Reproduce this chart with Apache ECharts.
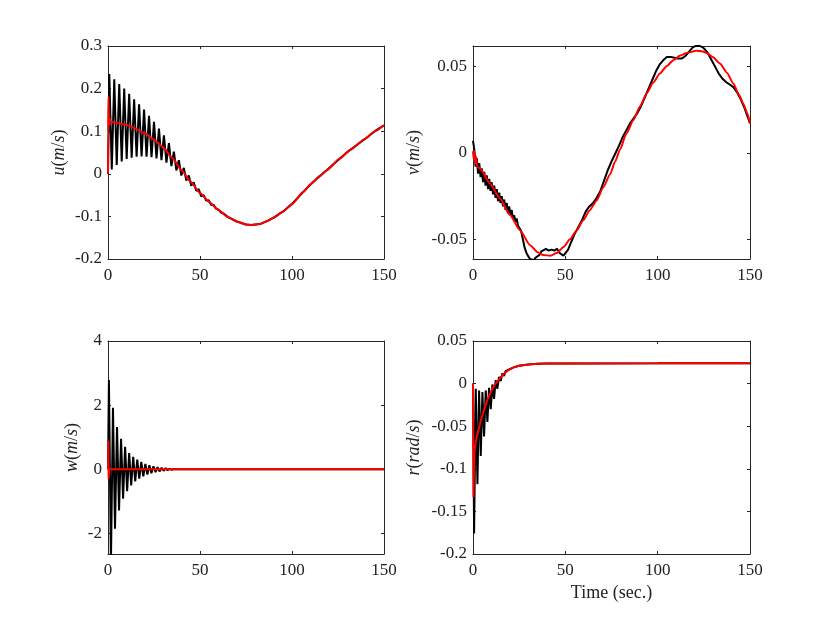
<!DOCTYPE html>
<html><head><meta charset="utf-8">
<script src="https://cdn.jsdelivr.net/npm/echarts@6/dist/echarts.min.js"></script>
<style>html,body{margin:0;padding:0;background:#fff}#c{width:830px;height:623px}</style>
</head><body><div id="c"></div>
<script>
// ---- tick values ----
const xTicks = [0, 50, 100, 150];
const uTicks = [-0.2, -0.1, 0, 0.1, 0.2, 0.3];
const vTicks = [-0.05, 0, 0.05];
const wTicks = [-2, 0, 2, 4];
const rTicks = [-0.2, -0.15, -0.1, -0.05, 0, 0.05];

// ---- u (m/s) ----
const uBlack = [[0,0],[0.7,0.234],[2.05,0.01],[3.4,0.222],[4.75,0.021],[6.1,0.211],[7.45,0.029],[8.8,0.2],[10.15,0.035],[11.5,0.188],[12.85,0.038],[14.2,0.175],[15.55,0.04],[16.9,0.163],[18.25,0.041],[19.6,0.151],[20.95,0.04],[22.3,0.136],[23.65,0.039],[25,0.122],[26.35,0.036],[27.7,0.106],[29.05,0.032],[30.4,0.09],[31.75,0.026],[33.1,0.072],[34.45,0.018],[35.8,0.052],[37.15,0.008],[38.5,0.032],[39.85,-0.004],[41.2,0.014],[42.55,-0.016],[43.9,-0.004],[45.25,-0.028],[46.6,-0.02],[47.95,-0.04],[49.3,-0.036],[50.65,-0.053],[52,-0.05],[53.35,-0.063],[54.7,-0.062],[56.05,-0.073],[57.4,-0.073],[58.75,-0.082],[60.1,-0.084],[61.45,-0.091],[62.8,-0.093],[65,-0.101],[70,-0.112],[75,-0.119],[78,-0.12],[82.6,-0.118],[87,-0.11],[90,-0.103],[95,-0.089],[100,-0.071],[106,-0.043],[110,-0.025],[115,-0.006],[119,0.009],[126,0.036],[131.5,0.056],[140,0.083],[145,0.1],[150,0.114]];
const uRed = [[0,0],[0.15,0.1],[0.3,0.18],[0.45,0.12],[0.6,0.14],[0.8,0.115],[1.0,0.13],[1.3,0.12],[2,0.122],[5,0.119],[10,0.115],[15,0.106],[20,0.095],[25,0.08],[30,0.062],[35,0.037],[40,0.008],[45,-0.019],[50,-0.045],[55,-0.066],[60,-0.085],[65,-0.101],[70,-0.112],[75,-0.119],[78,-0.12],[82.6,-0.118],[87,-0.11],[90,-0.103],[95,-0.089],[100,-0.071],[106,-0.043],[110,-0.025],[115,-0.006],[119,0.009],[126,0.036],[131.5,0.056],[140,0.083],[145,0.1],[150,0.114]];

// ---- v (m/s) ----
const vBlack = [[0,0.007],[0.7,0.002],[1.4,-0.008],[2.05,-0.003],[2.75,-0.012],[3.4,-0.006],[4.1,-0.014],[4.75,-0.009],[5.45,-0.017],[6.1,-0.011],[6.8,-0.019],[7.45,-0.013],[8.15,-0.021],[8.8,-0.015],[9.5,-0.022],[10.15,-0.017],[10.85,-0.024],[11.5,-0.019],[12.2,-0.026],[12.85,-0.021],[13.55,-0.028],[14.2,-0.023],[14.9,-0.029],[15.55,-0.025],[16.25,-0.031],[16.9,-0.027],[17.6,-0.033],[18.25,-0.029],[18.95,-0.035],[19.6,-0.031],[20.3,-0.036],[20.95,-0.033],[21.65,-0.038],[22.3,-0.036],[23,-0.04],[23.65,-0.038],[24.35,-0.042],[25,-0.041],[26,-0.045],[27,-0.05],[28,-0.055],[29,-0.058],[30,-0.06],[31,-0.0615],[32,-0.061],[33,-0.062],[34,-0.0605],[35,-0.061],[36,-0.059],[37,-0.057],[38,-0.056],[39.5,-0.0555],[41,-0.0565],[42.5,-0.056],[44,-0.0565],[45.5,-0.0555],[47,-0.058],[49,-0.0595],[50,-0.059],[51.5,-0.056],[53,-0.052],[55,-0.047],[57,-0.043],[59,-0.039],[61,-0.034],[63,-0.031],[65,-0.029],[67,-0.026],[69,-0.022],[71,-0.016],[73,-0.01],[75,-0.005],[77,-0.0005],[79,0.004],[81,0.009],[83,0.013],[85,0.017],[87,0.02],[89,0.023],[91,0.027],[93,0.032],[95,0.037],[97,0.042],[99,0.047],[101,0.051],[103,0.0535],[105,0.0555],[107,0.0555],[109,0.055],[111,0.0545],[113,0.0545],[115,0.056],[117,0.0585],[119,0.061],[121,0.062],[123,0.0618],[125,0.0605],[127,0.058],[129,0.054],[131,0.05],[133,0.046],[135,0.043],[137,0.041],[139,0.0395],[141,0.038],[143,0.035],[145,0.031],[147,0.026],[149,0.02],[150,0.017]];
const vRed = [[0,0.001],[0.4,-0.004],[0.8,0.001],[1.2,-0.006],[1.6,-0.002],[2.2,-0.008],[3.8,-0.009],[9.2,-0.0177],[14.6,-0.0264],[20,-0.036],[25.4,-0.0447],[30.9,-0.0534],[35,-0.0575],[38,-0.0591],[42,-0.0595],[45.3,-0.058],[49,-0.0545],[52.5,-0.05],[56,-0.045],[59.7,-0.039],[63,-0.0335],[67,-0.0275],[70.5,-0.02],[74.2,-0.0125],[77,-0.005],[79.6,0.002],[83,0.011],[86.8,0.0189],[90.5,0.027],[94,0.0343],[97.5,0.0405],[101.2,0.0459],[105,0.0503],[108.5,0.0536],[112,0.0562],[115.7,0.0578],[121,0.059],[124,0.0587],[126.5,0.0578],[130,0.0553],[133.7,0.0517],[137.5,0.0464],[141,0.0401],[144,0.0336],[146.3,0.0286],[148.5,0.023],[150,0.017]];

// ---- w (m/s) ----
const wBlack = [[0,0],[0.5,2.78],[1.6,-2.9],[2.7,1.92],[3.8,-1.85],[4.9,1.32],[6.0,-1.28],[7.1,0.95],[8.2,-0.92],[9.3,0.7],[10.4,-0.68],[11.5,0.51],[12.6,-0.5],[13.7,0.39],[14.8,-0.38],[15.9,0.3],[17.0,-0.29],[18.1,0.23],[19.2,-0.22],[20.3,0.17],[21.4,-0.165],[22.5,0.13],[23.6,-0.125],[24.7,0.095],[25.8,-0.09],[26.9,0.07],[28.0,-0.065],[29.1,0.05],[30.2,-0.045],[31.3,0.035],[32.4,-0.03],[33.5,0.02],[34.6,-0.015],[35.7,0.01],[36.8,0],[150,0]];
const wRed = [[0,0],[0.15,0.9],[0.35,-0.3],[0.6,0],[150,0]];

// ---- r (rad/s) ----
const rBlack = [[0,0],[0.6,-0.176],[1.5,-0.006],[2.4,-0.118],[3.3,-0.008],[4.2,-0.085],[5.1,-0.01],[6.0,-0.062],[6.9,-0.008],[7.8,-0.045],[8.7,-0.005],[9.6,-0.03],[10.5,-0.001],[11.4,-0.018],[12.3,0.004],[13.2,-0.006],[14.1,0.008],[15,0.003],[15.9,0.012],[16.8,0.009],[17.7,0.015],[19,0.016],[22,0.019],[25,0.021],[30,0.0225],[35,0.0232],[40,0.0235],[50,0.0237],[100,0.0238],[120,0.024],[150,0.0238]];
const rRed = [[0,0],[0.25,-0.133],[0.5,-0.1],[0.8,-0.08],[1.5,-0.068],[2.9,-0.055],[4.5,-0.041],[6.5,-0.0275],[8,-0.018],[10.1,-0.0079],[12,-0.0005],[13.7,0.0039],[16,0.01],[19.1,0.0157],[22,0.019],[25,0.021],[30,0.0225],[35,0.0232],[40,0.0235],[50,0.0237],[100,0.0238],[120,0.024],[150,0.0238]];

const FONT = 'Liberation Serif';
const TXT = '#222';
const AX = '#262626';

const grids = [
  {left:108, top:46, width:276, height:213},
  {left:473, top:46, width:277, height:213},
  {left:108, top:341, width:276, height:213},
  {left:473, top:341, width:277, height:213}
];

const panels = [
  {ticks:uTicks, min:-0.2, max:0.3, interval:0.1, name:'{i|u}({i|m}/{i|s})', gap:40, black:uBlack, red:uRed, smooth:0.2},
  {ticks:vTicks, min:-0.0614, max:0.0618, custom:true, name:'{i|v}({i|m}/{i|s})', gap:50, black:vBlack, red:vRed, smooth:0.2},
  {ticks:wTicks, min:-2.64, max:4, custom:true, name:'{i|w}({i|m}/{i|s})', gap:27, black:wBlack, red:wRed, smooth:false},
  {ticks:rTicks, min:-0.2, max:0.05, interval:0.05, name:'{i|r}({i|rad}/{i|s})', gap:50, black:rBlack, red:rRed, smooth:false, xName:'Time (sec.)'}
];

const xAxis = [], yAxis = [], series = [];
const lineSt = {color:AX, width:1};
const labelSt = {fontFamily:FONT, fontSize:17, color:TXT};
panels.forEach((p, g) => {
  const xBase = {gridIndex:g, type:'value', min:0, max:150, interval:50,
    axisLine:{show:true, onZero:false, lineStyle:lineSt},
    axisTick:{show:true, inside:true, length:3, lineStyle:lineSt},
    splitLine:{show:false}};
  xAxis.push(Object.assign({}, xBase, {position:'bottom',
    axisLabel:Object.assign({margin:8, customValues:xTicks}, labelSt),
    name:p.xName || '', nameLocation:'middle', nameGap:30,
    nameTextStyle:{fontFamily:FONT, fontSize:18, color:TXT}}));
  xAxis.push(Object.assign({}, xBase, {position:'top', axisLabel:{show:false}}));
  const yBase = {gridIndex:g, type:'value', min:p.min, max:p.max,
    axisLine:{show:true, onZero:false, lineStyle:lineSt},
    axisTick:{show:true, inside:true, length:3, lineStyle:lineSt},
    splitLine:{show:false}};
  if (p.custom) {
    yBase.axisTick.customValues = p.ticks;
  } else {
    yBase.interval = p.interval;
  }
  const yl = Object.assign({}, yBase, {position:'left',
    axisLabel:Object.assign({margin:6}, labelSt),
    name:p.name, nameLocation:'middle', nameGap:p.gap, nameRotate:90,
    nameTextStyle:{fontFamily:FONT, fontSize:18, color:TXT,
      rich:{i:{fontFamily:FONT, fontSize:18, fontStyle:'italic', color:TXT}}}});
  if (p.custom) yl.axisLabel.customValues = p.ticks;
  yAxis.push(yl);
  yAxis.push(Object.assign({}, yBase, {position:'right', axisLabel:{show:false}}));
  series.push({type:'line', xAxisIndex:2*g, yAxisIndex:2*g, data:p.black, showSymbol:false,
    lineStyle:{color:'#000', width:2}, itemStyle:{color:'#000'}, clip:true});
  series.push({type:'line', xAxisIndex:2*g, yAxisIndex:2*g, data:p.red, showSymbol:false,
    smooth:p.smooth, smoothMonotone:'x',
    lineStyle:{color:'#ff0000', width:2}, itemStyle:{color:'#ff0000'}, clip:true});
});

const chart = echarts.init(document.getElementById('c'), null, {renderer:'canvas'});
chart.setOption({animation:false, backgroundColor:'#fff', grid:grids, xAxis, yAxis, series});
</script></body></html>
